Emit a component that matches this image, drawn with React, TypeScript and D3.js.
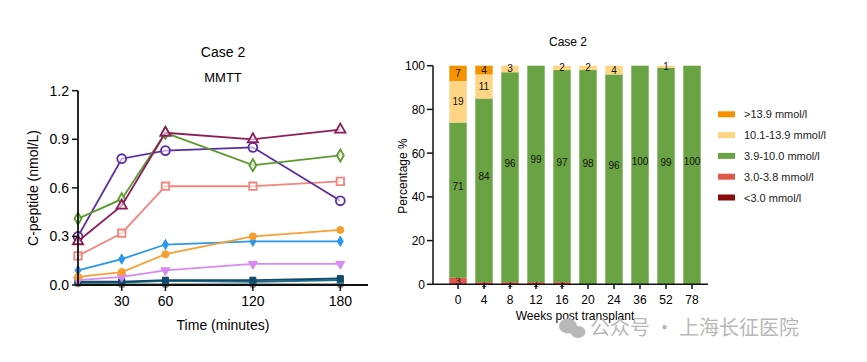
import React from 'react';
import * as d3 from 'd3';

// left panel: MMTT C-peptide curves
const times = [0, 30, 60, 120, 180];
const timeTicks = [30, 60, 120, 180];
const cpepTicks = [0, 0.3, 0.6, 0.9, 1.2];
const lineTriangle = [0.27, 0.49, 0.94, 0.9, 0.96];
const lineDiamond = [0.41, 0.53, 0.94, 0.74, 0.8];
const lineCircle = [0.3, 0.78, 0.83, 0.85, 0.52];
const lineSquare = [0.18, 0.32, 0.61, 0.61, 0.64];
const lineOrange = [0.05, 0.08, 0.19, 0.3, 0.34];
const lineBlue = [0.09, 0.16, 0.25, 0.27, 0.27];
const lineViolet = [0.03, 0.05, 0.09, 0.13, 0.13];
const lineTeal = [0.02, 0.02, 0.03, 0.03, 0.04];
const lineNavy = [0.015, 0.015, 0.025, 0.02, 0.03];
const lineGray = [0.01, 0.005, 0.005, 0.005, 0.005];

// right panel: glucose range distribution
const weeks = ['0', '4', '8', '12', '16', '20', '24', '36', '52', '78'];
const pctTicks = [0, 20, 40, 60, 80, 100];
const below30 = [0, 0, 0, 0, 0, 0, 0, 0, 0, 0];
const from30to38 = [3, 1, 1, 1, 1, 0, 0, 0, 0, 0];
const from39to100 = [71, 84, 96, 99, 97, 98, 96, 100, 99, 100];
const from101to139 = [19, 11, 3, 0, 2, 2, 4, 0, 1, 0];
const above139 = [7, 4, 0, 0, 0, 0, 0, 0, 0, 0];

const font = 'Liberation Sans, Arial, Helvetica, sans-serif';

const series = [
  { values: lineGray, color: '#8c8c8c', shape: d3.symbolCircle, open: false, size: 40 },
  { values: lineNavy, color: '#1c6f86', shape: d3.symbolSquare, open: false, size: 35 },
  { values: lineTeal, color: '#124a6b', shape: d3.symbolSquare, open: false, size: 35 },
  { values: lineViolet, color: '#d68af5', shape: d3.symbolTriangle, open: false, size: 35, rot: 180 },
  { values: lineBlue, color: '#2a97ee', shape: d3.symbolDiamond, open: false, size: 30 },
  { values: lineOrange, color: '#f6a033', shape: d3.symbolCircle, open: false, size: 40 },
  { values: lineSquare, color: '#f3857f', shape: d3.symbolSquare, open: true, size: 55 },
  { values: lineCircle, color: '#5a2ba3', shape: d3.symbolCircle, open: true, size: 62 },
  { values: lineDiamond, color: '#5b9a2c', shape: d3.symbolDiamond, open: true, size: 42 },
  { values: lineTriangle, color: '#8d1d5a', shape: d3.symbolTriangle, open: true, size: 46 },
];

const ranges = [
  { label: '<3.0  mmol/l', values: below30, color: '#8b0b0b' },
  { label: '3.0-3.8 mmol/l', values: from30to38, color: '#e0584a' },
  { label: '3.9-10.0 mmol/l', values: from39to100, color: '#6aa343' },
  { label: '10.1-13.9 mmol/l', values: from101to139, color: '#fdd584' },
  { label: '>13.9 mmol/l', values: above139, color: '#f49200' },
];

const LinePanel = () => {
  const x = d3.scaleLinear().domain([0, 199]).range([78, 368]);
  const y = d3.scaleLinear().domain([0, 1.2]).range([285, 90.7]);
  const line = d3.line<number>().x((_, i) => x(times[i])).y(d => y(d));
  return (
    <g fontFamily={font}>
      <text x={223} y={57} textAnchor="middle" fontSize={14}>Case 2</text>
      <text x={223} y={82} textAnchor="middle" fontSize={13}>MMTT</text>
      {series.map((s, k) => (
        <g key={k}>
          <path d={line(s.values) || ''} fill="none" stroke={s.color} strokeWidth={1.8} />
          {s.values.map((v, i) => (
            <path
              key={i}
              d={d3.symbol(s.shape, s.size)() || ''}
              transform={`translate(${x(times[i])},${y(v)}) rotate(${s.rot || 0})`}
              fill={s.open ? 'white' : s.color}
              fillOpacity={s.open ? 0.6 : 1}
              stroke={s.color}
              strokeWidth={s.open ? 1.8 : 1}
            />
          ))}
        </g>
      ))}
      <line x1={78} x2={78} y1={90.7} y2={285} stroke="#111" strokeWidth={1.8} />
      <line x1={78} x2={368} y1={285} y2={285} stroke="#111" strokeWidth={1.8} />
      {cpepTicks.map(t => (
        <g key={t}>
          <line x1={72} x2={78} y1={y(t)} y2={y(t)} stroke="#111" strokeWidth={1.5} />
          <text x={69} y={y(t) + 5} textAnchor="end" fontSize={14}>{t.toFixed(1)}</text>
        </g>
      ))}
      {timeTicks.map(t => (
        <g key={t}>
          <line x1={x(t)} x2={x(t)} y1={285} y2={291} stroke="#111" strokeWidth={1.5} />
          <text x={x(t)} y={306} textAnchor="middle" fontSize={14}>{t}</text>
        </g>
      ))}
      <text x={223} y={330} textAnchor="middle" fontSize={14}>Time (minutes)</text>
      <text transform="translate(38,188) rotate(-90)" textAnchor="middle" fontSize={14}>C-peptide (nmol/L)</text>
    </g>
  );
};

const BarPanel = () => {
  const x = d3.scaleBand<string>().domain(weeks).range([445, 705]).paddingInner(0.33).paddingOuter(0.165);
  const y = d3.scaleLinear().domain([0, 100]).range([284.3, 65.7]);
  const bw = x.bandwidth();
  return (
    <g fontFamily={font}>
      <text x={568} y={46} textAnchor="middle" fontSize={12}>Case 2</text>
      {weeks.map((w, i) => {
        let base = 0;
        return (
          <g key={w}>
            {ranges.map((r, k) => {
              const v = r.values[i];
              const y0 = base;
              base += v;
              if (v <= 0) return null;
              const mid = (y(y0) + y(y0 + v)) / 2;
              const ly = k === 2 ? mid - 14 : mid;
              return (
                <g key={k}>
                  <rect x={x(w)} y={y(y0 + v)} width={bw} height={y(y0) - y(y0 + v)} fill={r.color} />
                  <text x={(x(w) || 0) + bw / 2} y={ly + 3.5} textAnchor="middle" fontSize={10} fill="#111">{v}</text>
                </g>
              );
            })}
          </g>
        );
      })}
      <line x1={433} x2={433} y1={65.7} y2={284.3} stroke="#111" strokeWidth={1.5} />
      <line x1={433} x2={708} y1={284.3} y2={284.3} stroke="#111" strokeWidth={1.5} />
      {pctTicks.map(t => (
        <g key={t}>
          <line x1={427} x2={433} y1={y(t)} y2={y(t)} stroke="#111" strokeWidth={1.5} />
          <text x={425} y={y(t) + 4.5} textAnchor="end" fontSize={12}>{t}</text>
        </g>
      ))}
      {weeks.map(w => (
        <g key={w}>
          <line x1={(x(w) || 0) + bw / 2} x2={(x(w) || 0) + bw / 2} y1={284.3} y2={289} stroke="#111" strokeWidth={1.5} />
          <text x={(x(w) || 0) + bw / 2} y={304} textAnchor="middle" fontSize={12}>{w}</text>
        </g>
      ))}
      <text x={575} y={320} textAnchor="middle" fontSize={12}>Weeks post transplant</text>
      <text transform="translate(407,176) rotate(-90)" textAnchor="middle" fontSize={12}>Percentage %</text>
      {ranges.slice().reverse().map((r, i) => (
        <g key={r.label} transform={`translate(718,${114.3 + i * 20.8})`}>
          <rect x={0} y={-3} width={17} height={6} fill={r.color} />
          <text x={26} y={4} fontSize={11} fill="#222">{r.label}</text>
        </g>
      ))}
    </g>
  );
};

const App = () => (
  <svg width={867} height={362} style={{ position: 'absolute', left: 0, top: 0, background: 'white' }}>
    <rect width={867} height={362} fill="white" />
    <LinePanel />
    <BarPanel />
    <g fill="#b8b8b8" fontFamily="Noto Sans CJK SC, sans-serif">
      <ellipse cx={568} cy={326} rx={9} ry={7.5} />
      <ellipse cx={578} cy={332} rx={7.5} ry={6} />
      <text x={590} y={335} fontSize={20}>公众号 · 上海长征医院</text>
    </g>
  </svg>
);

export default App;
